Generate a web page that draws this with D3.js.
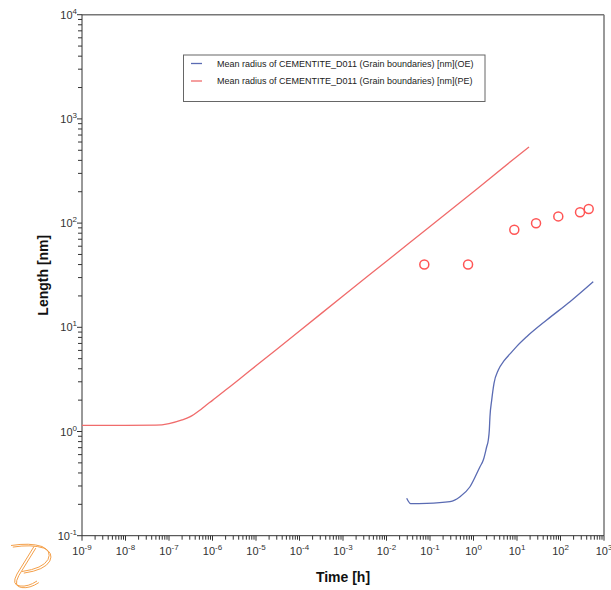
<!DOCTYPE html>
<html>
<head>
<meta charset="utf-8">
<script src="https://cdn.jsdelivr.net/npm/d3@7"></script>
<style>
  html, body { margin: 0; padding: 0; background: #fff; }
  svg { display: block; font-family: "Liberation Sans", Arial, sans-serif; }
</style>
</head>
<body>
<svg id="chart" width="611" height="590"></svg>
<script>
// Mean radius of cementite at grain boundaries: time [h] vs length [nm]
const peTime   = [1e-9, 1e-8, 5e-8, 1e-7, 2e-7, 3e-7, 5e-7, 7e-7, 1e-6, 2e-6, 4e-6, 1e-5, 1e-4, 1e-3, 1e-2, 1e-1, 1, 10, 18.9];
const peLength = [1.147, 1.147, 1.15, 1.19, 1.29, 1.38, 1.59, 1.78, 1.99, 2.50, 3.14, 4.27, 9.2, 20, 43, 93, 200, 436, 537];

const oeTime   = [0.0291, 0.036, 0.084, 0.288, 0.49, 0.83, 1.41, 1.68, 2.01, 2.19, 2.31, 2.39, 2.62, 2.96, 3.72, 5.0, 6.9, 10, 16.7, 48.2, 165, 567];
const oeLength = [0.2286, 0.203, 0.204, 0.212, 0.2365, 0.295, 0.459, 0.532, 0.714, 0.829, 1.03, 1.387, 2.0, 2.90, 3.89, 4.75, 5.55, 6.6, 8.12, 11.75, 17.6, 27.4];

const expTime   = [0.074, 0.75, 8.67, 27.4, 89, 281, 445];
const expLength = [40, 40, 86.4, 99.5, 116, 127, 136.5];

const xExponents = [-9, -8, -7, -6, -5, -4, -3, -2, -1, 0, 1, 2, 3];
const yExponents = [-1, 0, 1, 2, 3, 4];

const legendLabels = [
  "Mean radius of CEMENTITE_D011 (Grain boundaries) [nm](OE)",
  "Mean radius of CEMENTITE_D011 (Grain boundaries) [nm](PE)"
];
const blue = "#5a6bb3";
const red = "#f06b6b";
const markerRed = "#ff5555";

const svg = d3.select("#chart");
const pLeft = 82, pRight = 604, pTop = 14.7, pBottom = 535.7;

const x = d3.scaleLog().domain([1e-9, 1e3]).range([pLeft, pRight]);
const y = d3.scaleLog().domain([1e-1, 1e4]).range([pBottom, pTop]);

// frame: grey top/right, dark left/bottom
svg.append("line").attr("x1", pLeft).attr("x2", pRight).attr("y1", pTop).attr("y2", pTop)
  .attr("stroke", "#777").attr("stroke-width", 1.5);
svg.append("line").attr("x1", pRight).attr("x2", pRight).attr("y1", pTop).attr("y2", pBottom)
  .attr("stroke", "#777").attr("stroke-width", 1.5);

// minor/major tick values
function logTicks(minExp, maxExp) {
  const out = [];
  for (let e = minExp; e <= maxExp; e++) {
    for (let m = 1; m <= 9; m++) {
      if (e === maxExp && m > 1) break;
      out.push({ v: m * Math.pow(10, e), major: m === 1 });
    }
  }
  return out;
}

const axisColor = "#333";
// x axis
const gx = svg.append("g");
gx.append("line").attr("x1", pLeft).attr("x2", pRight).attr("y1", pBottom).attr("y2", pBottom)
  .attr("stroke", axisColor);
gx.selectAll("line.tk").data(logTicks(-9, 3)).join("line").attr("class", "tk")
  .attr("x1", d => x(d.v)).attr("x2", d => x(d.v))
  .attr("y1", pBottom).attr("y2", d => pBottom + (d.major ? 5 : 4))
  .attr("stroke", axisColor);
const xl = gx.selectAll("text").data(xExponents).join("text")
  .attr("x", d => x(Math.pow(10, d))).attr("y", 555)
  .attr("text-anchor", "middle").attr("font-size", 11).attr("fill", "#333");
xl.append("tspan").text("10");
xl.append("tspan").attr("dy", -5).attr("font-size", 8).text(d => d);

// y axis
const gy = svg.append("g");
gy.append("line").attr("x1", pLeft).attr("x2", pLeft).attr("y1", pTop).attr("y2", pBottom)
  .attr("stroke", axisColor);
gy.selectAll("line.tk").data(logTicks(-1, 4)).join("line").attr("class", "tk")
  .attr("x1", pLeft).attr("x2", d => pLeft - (d.major ? 5 : 4))
  .attr("y1", d => y(d.v)).attr("y2", d => y(d.v))
  .attr("stroke", axisColor);
const yl = gy.selectAll("text").data(yExponents).join("text")
  .attr("x", 77).attr("y", d => y(Math.pow(10, d)) + 4)
  .attr("text-anchor", "end").attr("font-size", 11).attr("fill", "#333");
yl.append("tspan").text("10");
yl.append("tspan").attr("dy", -5).attr("font-size", 8).text(d => d);

// axis titles
svg.append("text").attr("x", (pLeft + pRight) / 2).attr("y", 582)
  .attr("text-anchor", "middle").attr("font-size", 14).attr("font-weight", "bold")
  .attr("fill", "#111").text("Time [h]");
svg.append("text").attr("transform", `translate(48,${(pTop + pBottom) / 2}) rotate(-90)`)
  .attr("text-anchor", "middle").attr("font-size", 14).attr("font-weight", "bold")
  .attr("fill", "#111").text("Length [nm]");

// series
const line = d3.line().x(d => x(d[0])).y(d => y(d[1])).curve(d3.curveMonotoneX);
const plot = svg.append("g");
plot.append("path").datum(d3.zip(peTime, peLength)).attr("d", line)
  .attr("fill", "none").attr("stroke", red).attr("stroke-width", 1.3);
plot.append("path").datum(d3.zip(oeTime, oeLength)).attr("d", line)
  .attr("fill", "none").attr("stroke", blue).attr("stroke-width", 1.3);
plot.selectAll("circle").data(d3.zip(expTime, expLength)).join("circle")
  .attr("cx", d => x(d[0])).attr("cy", d => y(d[1])).attr("r", 4.5)
  .attr("fill", "none").attr("stroke", markerRed).attr("stroke-width", 1.5);

// legend
const lg = svg.append("g");
lg.append("rect").attr("x", 183.5).attr("y", 55).attr("width", 301.5).attr("height", 46.5)
  .attr("fill", "#fff").attr("stroke", "#666").attr("stroke-width", 1);
const lgColors = [blue, red];
legendLabels.forEach((lab, i) => {
  const yy = 63.5 + i * 17.5;
  lg.append("line").attr("x1", 191).attr("x2", 202).attr("y1", yy).attr("y2", yy)
    .attr("stroke", lgColors[i]).attr("stroke-width", 1.3);
  lg.append("text").attr("x", 217).attr("y", yy + 3.2).attr("font-size", 9)
    .attr("fill", "#222").text(lab);
});

// logo mark: double-stroked script letter
const logo = svg.append("g").attr("fill", "none").attr("stroke", "#f4a04a").attr("stroke-width", 1);
[[0, 0], [1.8, 1.6]].forEach(([dx, dy]) => {
  const g = logo.append("g").attr("transform", `translate(${dx},${dy})`);
  g.append("path").attr("d", "M11,545.5 Q30,542.5 42,546.5 Q52,551 48,559.5 Q43,568.5 22,571.5");
  g.append("path").attr("d", "M34,546.5 L17,574 Q11,585 20,586 Q28,587 37,581");
});
</script>
</body>
</html>
